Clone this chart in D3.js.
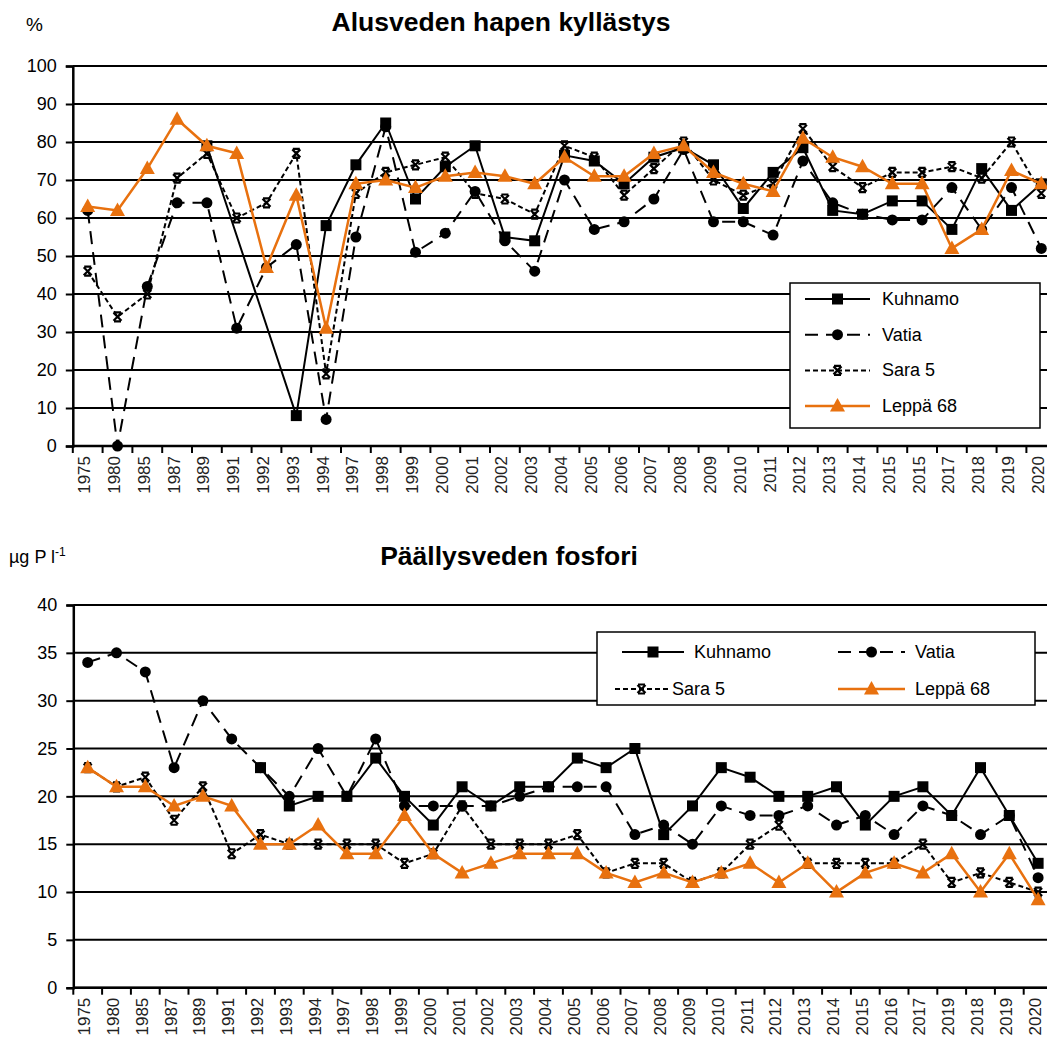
<!DOCTYPE html>
<html>
<head>
<meta charset="utf-8">
<script src="https://cdn.jsdelivr.net/npm/d3@7"></script>
<style>
  body { margin: 0; background: #fff; }
  svg { display: block; font-family: "Liberation Sans", Arial, sans-serif; }
</style>
</head>
<body>
<div id="chart"></div>
<script>
// top panel: hypolimnion oxygen saturation (%)
const yearsO2 = ['1975','1980','1985','1987','1989','1991','1992','1993','1994','1997','1998','1999','2000','2001','2002','2003','2004','2005','2006','2007','2008','2009','2010','2011','2012','2013','2014','2015','2015','2017','2018','2019','2020'];
const kuhnamoO2 = [null,null,null,null,79,null,null,8,58,74,85,65,73.5,79,55,54,76.5,75,69,76,78.5,74,62.5,72,78.5,62,61,64.5,64.5,57,73,62,69];
const vatiaO2 = [62,0,42,64,64,31,47,53,7,55,84,51,56,67,54,46,70,57,59,65,78,59,59,55.5,75,64,61,59.5,59.5,68,57,68,52];
const sara5O2 = [46,34,40,70.5,77,60,64,77,19,66.5,72,74,76,66.5,65,61,79,76,66,73,80,70,66,69,83.5,73.5,68,72,72,73.5,70.5,80,66.5];
const leppaO2 = [63,62,73,86,79,77,47,66,31,69,70,68,71,72,71,69,76,71,71,77,79,72,69,67,81,76,73.5,69,69,52,57,72.5,69];
const ticksO2 = [0,10,20,30,40,50,60,70,80,90,100];

// bottom panel: epilimnion phosphorus (µg P/l)
const yearsP = ['1975','1980','1985','1987','1989','1991','1992','1993','1994','1997','1998','1999','2000','2001','2002','2003','2004','2005','2006','2007','2008','2009','2010','2011','2012','2013','2014','2015','2016','2017','2019','2018','2019','2020'];
const kuhnamoP = [null,null,null,null,null,null,23,19,20,20,24,20,17,21,19,21,21,24,23,25,16,19,23,22,20,20,21,17,20,21,18,23,18,13];
const vatiaP = [34,35,33,23,30,26,23,20,25,20,26,19,19,19,19,20,21,21,21,16,17,15,19,18,18,19,17,18,16,19,18,16,18,11.5];
const sara5P = [23,21,22,17.5,21,14,16,15,15,15,15,13,14,19,15,15,15,16,12,13,13,11,12,15,17,13,13,13,13,15,11,12,11,10];
const leppaP = [23,21,21,19,20,19,15,15,17,14,14,18,14,12,13,14,14,14,12,11,12,11,12,13,11,13,10,12,13,12,14,10,14,9.2];
const ticksP = [0,5,10,15,20,25,30,35,40];

const seriesNames = ['Kuhnamo','Vatia','Sara 5','Leppä 68'];
const ORANGE = '#e8710f';

const styles = {
  'Kuhnamo': { color: '#000', dash: null, marker: 'square' },
  'Vatia': { color: '#000', dash: '13,8', marker: 'circle' },
  'Sara 5': { color: '#000', dash: '5,3', marker: 'cross' },
  'Leppä 68': { color: ORANGE, dash: null, marker: 'triangle' }
};

const W = 1047, H = 1041;
const svg = d3.select('#chart').append('svg')
  .attr('width', W).attr('height', H);

function drawMarker(g, type, color, x, y) {
  if (type === 'square') {
    g.append('rect').attr('x', x - 5.5).attr('y', y - 5.5)
      .attr('width', 11).attr('height', 11).attr('fill', color);
  } else if (type === 'circle') {
    g.append('circle').attr('cx', x).attr('cy', y).attr('r', 5.5).attr('fill', color);
  } else if (type === 'cross') {
    g.append('path')
      .attr('d', `M${x-4},${y-4}L${x+4},${y+4}M${x+4},${y-4}L${x-4},${y+4}M${x-3.5},${y-4.5}L${x+3.5},${y-4.5}M${x-3.5},${y+4.5}L${x+3.5},${y+4.5}`)
      .attr('stroke', color).attr('stroke-width', 2.2).attr('fill', 'none');
  } else if (type === 'triangle') {
    g.append('path')
      .attr('d', `M${x},${y-8}L${x+7.5},${y+5.5}L${x-7.5},${y+5.5}Z`)
      .attr('fill', color);
  }
}

function panel(opt) {
  const g = svg.append('g');
  const n = opt.labels.length;
  const x = d3.scaleBand().domain(d3.range(n))
    .range([opt.left, opt.left + opt.band * n]).paddingInner(0).paddingOuter(0);
  const y = d3.scaleLinear().domain(opt.domain).range([opt.bottom, opt.top]);

  // horizontal grid lines
  g.append('g').selectAll('line')
    .data(opt.ticks)
    .enter().append('line')
    .attr('x1', opt.left).attr('x2', W)
    .attr('y1', d => y(d)).attr('y2', d => y(d))
    .attr('stroke', '#000').attr('stroke-width', 2);

  // y axis
  const yAxis = g.append('g')
    .attr('transform', `translate(${opt.left},0)`)
    .call(d3.axisLeft(y).tickValues(opt.ticks).tickSize(7).tickPadding(9));
  yAxis.select('.domain').attr('stroke-width', 2.5);
  yAxis.selectAll('.tick line').attr('stroke-width', 2);
  yAxis.selectAll('text').attr('font-size', 18).attr('fill', '#000');

  // x axis, ticks at band edges
  const xAxisG = g.append('g').attr('transform', `translate(0,${opt.bottom})`);
  xAxisG.append('line').attr('x1', opt.left).attr('x2', W)
    .attr('stroke', '#000').attr('stroke-width', 2.5);
  xAxisG.selectAll('.edge')
    .data(d3.range(n + 1))
    .enter().append('line')
    .attr('class', 'edge')
    .attr('x1', i => opt.left + i * opt.band).attr('x2', i => opt.left + i * opt.band)
    .attr('y1', 0).attr('y2', 7)
    .attr('stroke', '#000').attr('stroke-width', 2);
  xAxisG.selectAll('text')
    .data(d3.range(n))
    .enter().append('text')
    .attr('transform', i => `translate(${x(i) + x.bandwidth() / 2 + 2.5},10) rotate(-90)`)
    .attr('text-anchor', 'end')
    .attr('font-size', 17)
    .attr('fill', '#222')
    .text(i => opt.labels[i]);

  // series
  const plot = g.append('g');
  seriesNames.forEach((name, si) => {
    const st = styles[name];
    const pts = opt.series[si]
      .map((v, i) => ({ i, v }))
      .filter(d => d.v !== null);
    const line = d3.line()
      .x(d => x(d.i) + x.bandwidth() / 2)
      .y(d => y(d.v));
    plot.append('path')
      .datum(pts)
      .attr('d', line)
      .attr('fill', 'none')
      .attr('stroke', st.color)
      .attr('stroke-width', name === 'Leppä 68' ? 2.5 : 2)
      .attr('stroke-dasharray', st.dash);
    const mg = plot.append('g');
    pts.forEach(d => drawMarker(mg, st.marker, st.color, x(d.i) + x.bandwidth() / 2, y(d.v)));
  });

  // titles
  g.append('text').attr('x', opt.titleX).attr('y', opt.titleY)
    .attr('text-anchor', 'middle').attr('font-size', 26.5).attr('font-weight', 'bold')
    .text(opt.title);

  return g;
}

function legendEntry(g, name, x0, x1, y, textX) {
  const st = styles[name];
  g.append('line').attr('x1', x0).attr('x2', x1).attr('y1', y).attr('y2', y)
    .attr('stroke', st.color).attr('stroke-width', name === 'Leppä 68' ? 2.5 : 2)
    .attr('stroke-dasharray', st.dash);
  drawMarker(g, st.marker, st.color, (x0 + x1) / 2, y);
  g.append('text').attr('x', textX).attr('y', y + 6).attr('font-size', 18).text(name);
}

// top panel
const topPanel = panel({
  labels: yearsO2,
  series: [kuhnamoO2, vatiaO2, sara5O2, leppaO2],
  left: 72.8, band: 29.8, top: 66, bottom: 446,
  domain: [0, 100], ticks: ticksO2,
  title: 'Alusveden hapen kyllästys', titleX: 501, titleY: 31
});
topPanel.append('text').attr('x', 26).attr('y', 31).attr('font-size', 19).text('%');

const lg1 = topPanel.append('g');
lg1.append('rect').attr('x', 790).attr('y', 283).attr('width', 250).attr('height', 145)
  .attr('fill', '#fff').attr('stroke', '#000').attr('stroke-width', 1.5);
seriesNames.forEach((name, i) => legendEntry(lg1, name, 805, 870, 299 + i * 35.7, 882));

// bottom panel
const bottomPanel = panel({
  labels: yearsP,
  series: [kuhnamoP, vatiaP, sara5P, leppaP],
  left: 73.3, band: 28.8, top: 605, bottom: 987.7,
  domain: [0, 40], ticks: ticksP,
  title: 'Päällysveden fosfori', titleX: 509, titleY: 565
});
const unit = bottomPanel.append('text').attr('x', 9).attr('y', 563).attr('font-size', 18);
unit.append('tspan').text('µg P l');
unit.append('tspan').attr('dy', -7).attr('font-size', 12).text('-1');

const lg2 = bottomPanel.append('g');
lg2.append('rect').attr('x', 597).attr('y', 632).attr('width', 438).attr('height', 73)
  .attr('fill', '#fff').attr('stroke', '#000').attr('stroke-width', 1.5);
legendEntry(lg2, 'Kuhnamo', 622, 684, 652, 694);
legendEntry(lg2, 'Vatia', 838, 905, 652, 915);
legendEntry(lg2, 'Sara 5', 615, 668, 689, 672);
legendEntry(lg2, 'Leppä 68', 838, 905, 689, 915);
</script>
</body>
</html>
